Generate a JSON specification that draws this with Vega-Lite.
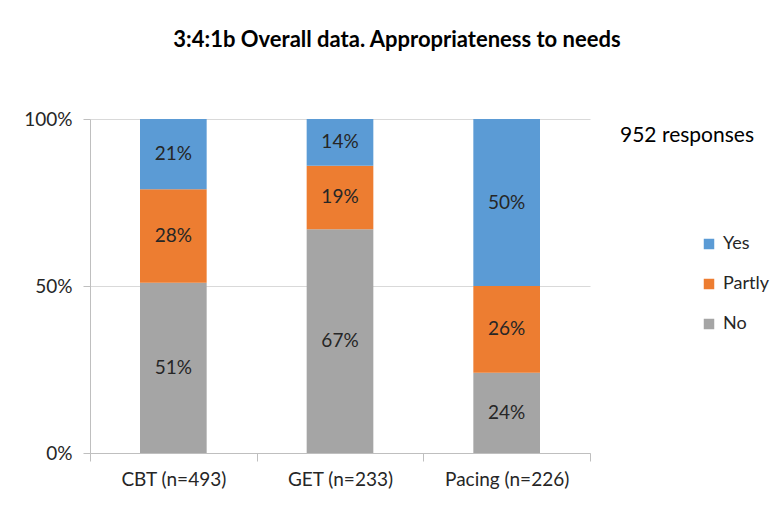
{
  "$schema": "https://vega.github.io/schema/vega-lite/v6.json",
  "width": 500,
  "height": 334,
  "autosize": {"type": "none"},
  "padding": {"left": 90, "top": 119, "right": 187, "bottom": 53},
  "background": "white",
  "title": {
    "text": "3:4:1b Overall data. Appropriateness to needs",
    "font": "Lato",
    "fontSize": 22,
    "fontWeight": "bold",
    "color": "#000000",
    "anchor": "middle",
    "dx": 57,
    "offset": 58
  },
  "config": {
    "view": {"stroke": null},
    "font": "Lato"
  },
  "data": {
    "values": [
      {"Therapy": "CBT (n=493)", "Response": "No", "Share": 0.51},
      {"Therapy": "CBT (n=493)", "Response": "Partly", "Share": 0.28},
      {"Therapy": "CBT (n=493)", "Response": "Yes", "Share": 0.21},
      {"Therapy": "GET (n=233)", "Response": "No", "Share": 0.67},
      {"Therapy": "GET (n=233)", "Response": "Partly", "Share": 0.19},
      {"Therapy": "GET (n=233)", "Response": "Yes", "Share": 0.14},
      {"Therapy": "Pacing (n=226)", "Response": "No", "Share": 0.24},
      {"Therapy": "Pacing (n=226)", "Response": "Partly", "Share": 0.26},
      {"Therapy": "Pacing (n=226)", "Response": "Yes", "Share": 0.50}
    ]
  },
  "encoding": {
    "x": {
      "field": "Therapy",
      "type": "nominal",
      "sort": null,
      "scale": {"paddingInner": 0.6, "paddingOuter": 0.3},
      "axis": {
        "title": null,
        "labelAngle": 0,
        "labelFont": "Lato",
        "labelFontSize": 19,
        "labelColor": "#262626",
        "bandPosition": 2.5,
        "tickExtra": true,
        "tickOffset": -50,
        "labelOffset": 50,
        "tickSize": 8,
        "tickColor": "#BFBFBF",
        "domainColor": "#BFBFBF",
        "labelPadding": 9,
        "grid": false
      }
    },
    "order": {"field": "Response", "sort": "ascending"}
  },
  "layer": [
    {
      "mark": {"type": "bar"},
      "encoding": {
        "y": {
          "field": "Share",
          "type": "quantitative",
          "stack": "zero",
          "scale": {"domain": [0, 1]},
          "axis": {
            "title": null,
            "values": [0, 0.5, 1],
            "format": ".0%",
            "grid": true,
            "gridColor": "#D9D9D9",
            "domainColor": "#BFBFBF",
            "tickColor": "#BFBFBF",
            "tickSize": 7,
            "labelPadding": 11,
            "labelFont": "Lato",
            "labelFontSize": 19,
            "labelColor": "#262626"
          }
        },
        "color": {
          "field": "Response",
          "type": "nominal",
          "scale": {"domain": ["Yes", "Partly", "No"], "range": ["#5B9BD5", "#ED7D31", "#A5A5A5"]},
          "legend": {
            "title": "952 responses",
            "orient": "none",
            "legendX": 530,
            "legendY": 6,
            "titleFont": "Lato",
            "titleFontSize": 21,
            "titleFontWeight": "normal",
            "titleColor": "#000000",
            "titlePadding": 89,
            "symbolType": "square",
            "symbolSize": 110,
            "symbolStrokeWidth": 0,
            "symbolOffset": 80,
            "labelFont": "Lato",
            "labelFontSize": 18,
            "labelColor": "#262626",
            "labelOffset": 5,
            "rowPadding": 22
          }
        }
      }
    },
    {
      "mark": {"type": "text", "font": "Lato", "fontSize": 19, "color": "#262626", "baseline": "middle"},
      "encoding": {
        "y": {"field": "Share", "type": "quantitative", "stack": "zero", "bandPosition": 0.5},
        "detail": {"field": "Response"},
        "text": {"field": "Share", "type": "quantitative", "format": ".0%"}
      }
    }
  ]
}
